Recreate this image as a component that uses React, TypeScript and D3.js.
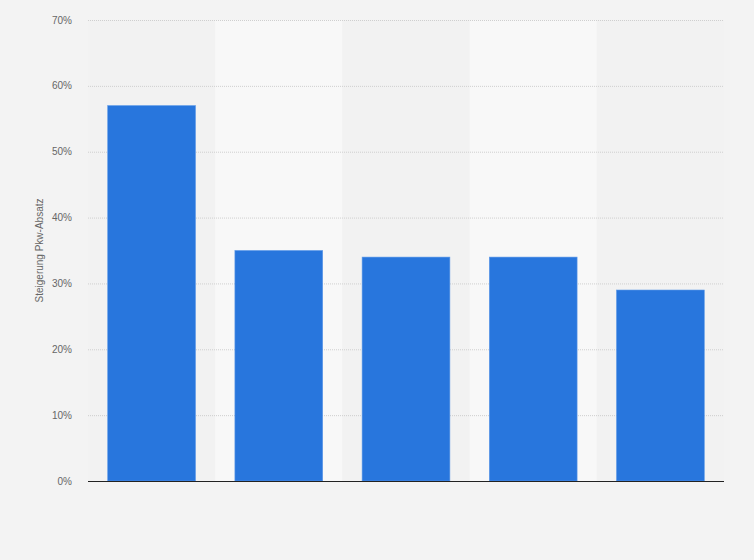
import { useEffect, useRef } from "react";
import * as d3 from "d3";

// Kategorien (keine Beschriftung im Original sichtbar)
const categories = ["A", "B", "C", "D", "E"];
const values = [57, 35, 34, 34, 29];
const yTicks = [0, 10, 20, 30, 40, 50, 60, 70];
const yLabel = "Steigerung Pkw-Absatz";

export default function App() {
  const svgRef = useRef<SVGSVGElement>(null);

  useEffect(() => {
    if (!svgRef.current) return;
    const width = 754;
    const height = 560;
    const margin = { top: 20, right: 30, bottom: 79, left: 88 };

    const svg = d3.select(svgRef.current);
    svg.selectAll("*").remove();

    svg.append("rect").attr("width", width).attr("height", height).attr("fill", "#f3f3f3");

    const x = d3
      .scaleBand()
      .domain(categories)
      .range([margin.left, width - margin.right])
      .paddingInner(0.31)
      .paddingOuter(0.155);

    const bandX = d3
      .scaleBand()
      .domain(categories)
      .range([margin.left, width - margin.right]);

    const y = d3
      .scaleLinear()
      .domain([0, 70])
      .range([height - margin.bottom, margin.top]);

    // Hintergrundstreifen
    svg
      .append("g")
      .selectAll("rect")
      .data(categories)
      .join("rect")
      .attr("x", (d) => bandX(d)!)
      .attr("y", margin.top)
      .attr("width", bandX.bandwidth())
      .attr("height", y(0) - margin.top)
      .attr("fill", (_, i) => (i % 2 === 0 ? "#f2f2f2" : "#f8f8f8"));

    // Gitterlinien
    svg
      .append("g")
      .selectAll("line")
      .data(yTicks.filter((t) => t > 0))
      .join("line")
      .attr("x1", margin.left)
      .attr("x2", width - margin.right)
      .attr("y1", (d) => y(d) + 0.5)
      .attr("y2", (d) => y(d) + 0.5)
      .attr("stroke", "#cfcfcf")
      .attr("stroke-dasharray", "1,1");

    // Achsenbeschriftung
    svg
      .append("g")
      .selectAll("text")
      .data(yTicks)
      .join("text")
      .attr("x", 72)
      .attr("y", (d) => y(d) + 3.5)
      .attr("text-anchor", "end")
      .attr("font-family", "Arial, 'Liberation Sans', sans-serif")
      .attr("font-size", 10)
      .attr("fill", "#666")
      .text((d) => `${d}%`);

    svg
      .append("text")
      .attr("transform", `translate(43,${(margin.top + y(0)) / 2}) rotate(-90)`)
      .attr("text-anchor", "middle")
      .attr("font-family", "Arial, 'Liberation Sans', sans-serif")
      .attr("font-size", 10)
      .attr("fill", "#666")
      .text(yLabel);

    // Balken
    svg
      .append("g")
      .selectAll("rect")
      .data(values)
      .join("rect")
      .attr("x", (_, i) => x(categories[i])!)
      .attr("y", (d) => y(d))
      .attr("width", x.bandwidth())
      .attr("height", (d) => y(0) - y(d))
      .attr("fill", "#2876dd")
      .attr("stroke", "#5c98e8")
      .attr("stroke-width", 0.6);

    // Grundlinie
    svg
      .append("line")
      .attr("x1", margin.left)
      .attr("x2", width - margin.right)
      .attr("y1", y(0) + 0.5)
      .attr("y2", y(0) + 0.5)
      .attr("stroke", "#222")
      .attr("stroke-width", 1);
  }, []);

  return (
    <div style={{ position: "absolute", left: 0, top: 0 }}>
      <svg ref={svgRef} width={754} height={560} style={{ display: "block" }} />
    </div>
  );
}
